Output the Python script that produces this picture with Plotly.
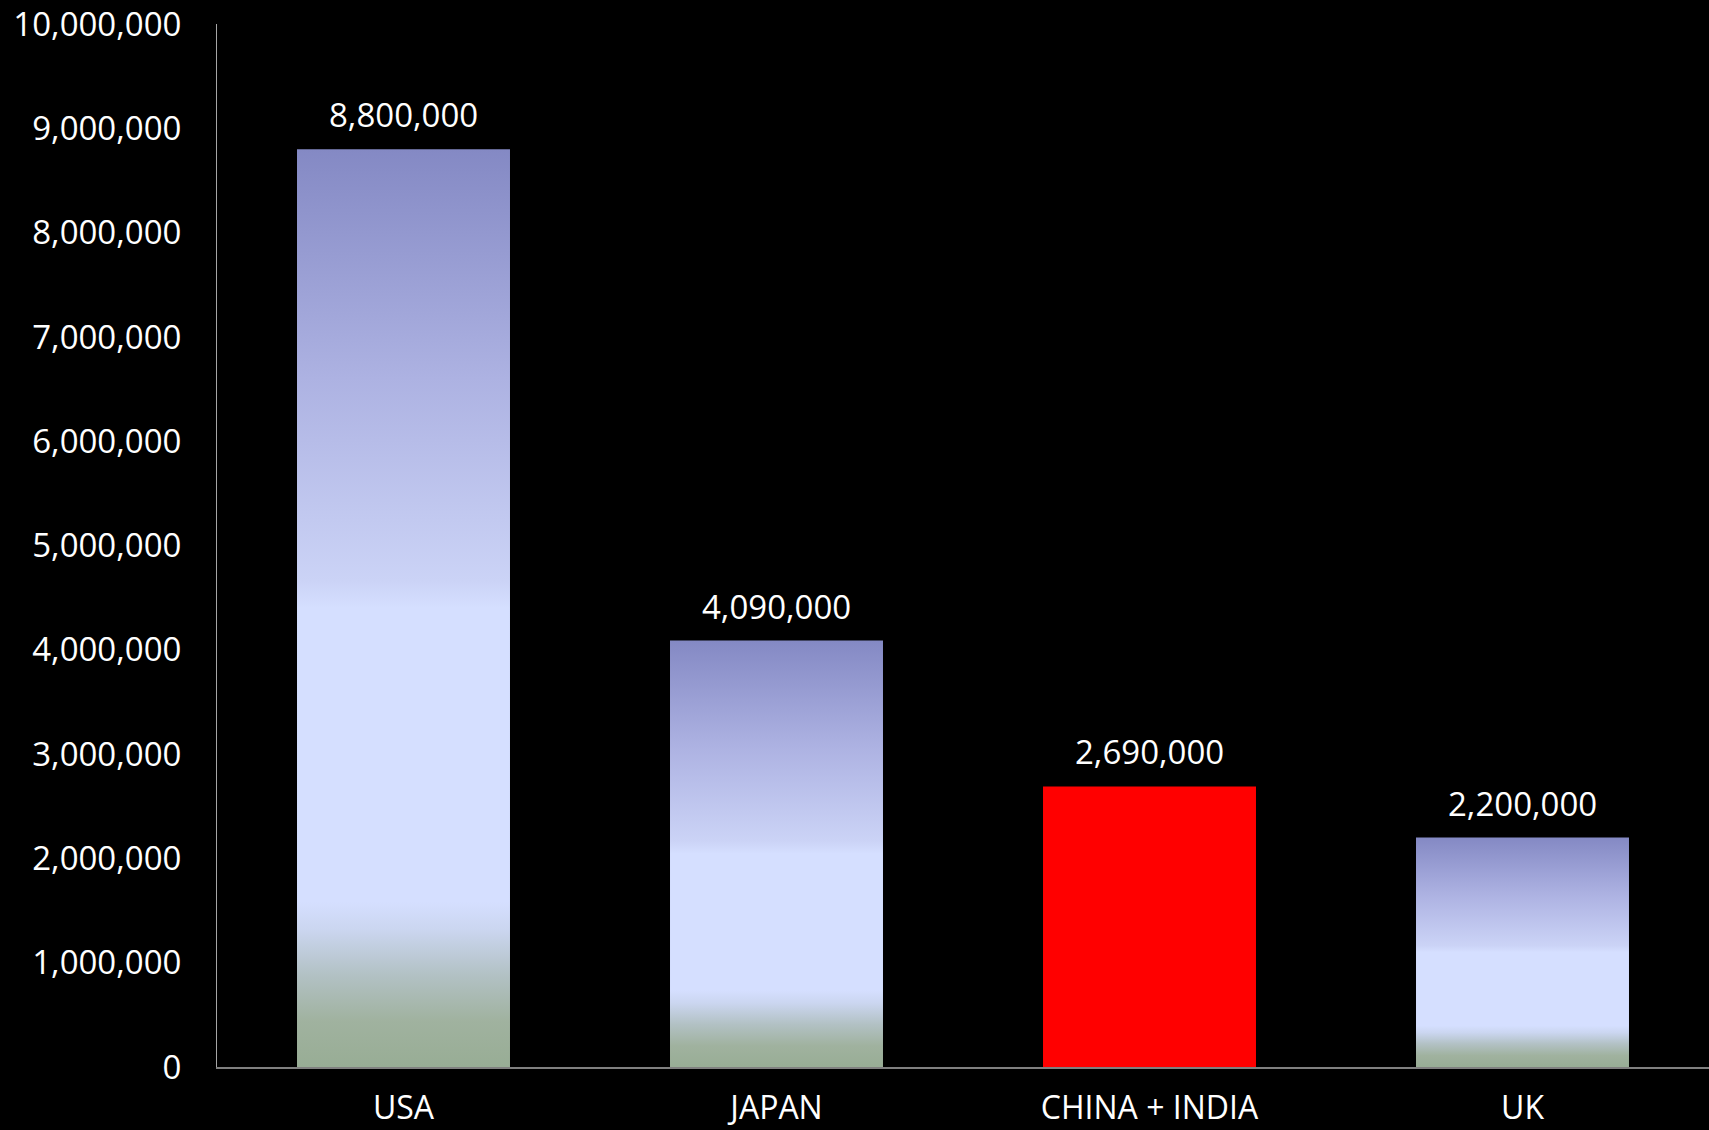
import plotly.graph_objects as go

categories = ["USA", "JAPAN", "CHINA + INDIA", "UK"]
values = [8800000, 4090000, 2690000, 2200000]
value_labels = ["8,800,000", "4,090,000", "2,690,000", "2,200,000"]
gradient_bar = [True, True, False, True]
y_tick_values = [0, 1000000, 2000000, 3000000, 4000000, 5000000,
                 6000000, 7000000, 8000000, 9000000, 10000000]
y_tick_labels = ["0", "1,000,000", "2,000,000", "3,000,000", "4,000,000", "5,000,000",
                 "6,000,000", "7,000,000", "8,000,000", "9,000,000", "10,000,000"]

BAR_WIDTH = 0.571
HALF = BAR_WIDTH / 2
FONT = "Open Sans"

# vertical gradient (0 = bottom of bar, 1 = top of bar)
gradient = [
    [0.0, "#98ad95"],
    [0.05, "#a0b29f"],
    [0.10, "#b2c1c4"],
    [0.15, "#cbd6f0"],
    [0.18, "#d5dfff"],
    [0.50, "#d5dfff"],
    [0.53, "#cbd3f6"],
    [0.75, "#adb2e2"],
    [1.0, "#8489c4"],
]

fig = go.Figure()

fig.add_trace(go.Bar(
    x=list(range(len(categories))),
    y=values,
    width=BAR_WIDTH,
    marker=dict(color=["rgba(0,0,0,0)" if g else "#ff0000" for g in gradient_bar],
                line=dict(width=0)),
    hoverinfo="skip",
    showlegend=False,
))

for i, (v, g) in enumerate(zip(values, gradient_bar)):
    if not g:
        continue
    fig.add_trace(go.Scatter(
        x=[i - HALF, i - HALF, i + HALF, i + HALF, i - HALF],
        y=[0, v, v, 0, 0],
        fill="toself",
        mode="none",
        fillgradient=dict(type="vertical", colorscale=gradient, start=0, stop=v),
        hoverinfo="skip",
        showlegend=False,
    ))

for i, (v, lab) in enumerate(zip(values, value_labels)):
    fig.add_annotation(
        x=i, y=v, text=lab, showarrow=False,
        xanchor="center", yanchor="bottom", yshift=10,
        font=dict(family=FONT, size=33, color="#ffffff"),
    )

fig.update_layout(
    width=1709, height=1130,
    paper_bgcolor="#000000", plot_bgcolor="#000000",
    margin=dict(l=217, r=0, t=24, b=63),
    showlegend=False,
    bargap=0.43,
    font=dict(family=FONT, color="#ffffff"),
)
fig.update_xaxes(
    range=[-0.5, 3.5], automargin=False,
    tickmode="array", tickvals=list(range(len(categories))), ticktext=categories,
    tickfont=dict(family=FONT, size=32, color="#ffffff"),
    showgrid=False, zeroline=False,
    showline=True, linecolor="#808080", linewidth=2,
    ticks="", ticklabelstandoff=12, ticklabeloverflow="allow",
)
fig.update_yaxes(
    range=[0, 10002000], automargin=False,
    tickmode="array", tickvals=y_tick_values, ticktext=y_tick_labels,
    tickfont=dict(family=FONT, size=33, color="#ffffff"),
    showgrid=False, zeroline=False,
    showline=True, linecolor="#a6a6a6", linewidth=1,
    ticks="", ticklabelstandoff=28, ticklabeloverflow="allow",
)

fig.write_html("out.html")
